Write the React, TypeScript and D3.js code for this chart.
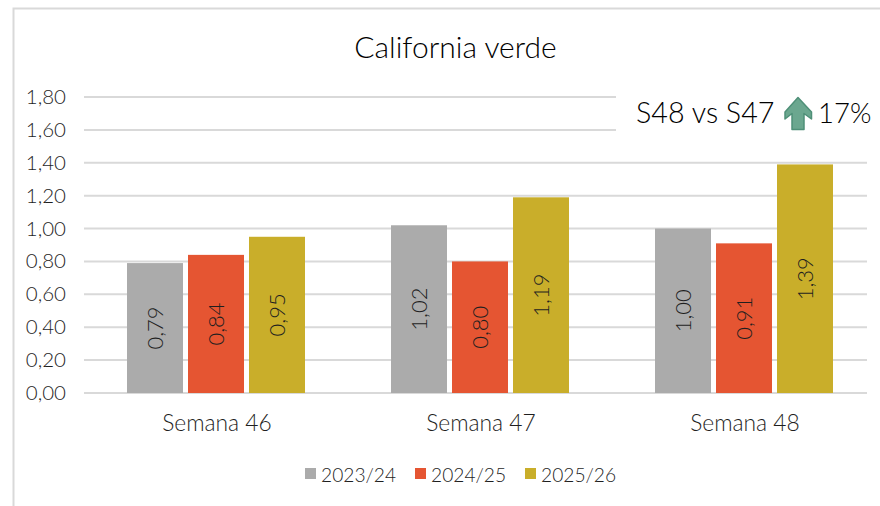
import React from "react";
import * as d3 from "d3";

const categories = ["Semana 46", "Semana 47", "Semana 48"];
const seriesNames = ["2023/24", "2024/25", "2025/26"];
const colors = ["#ABABAB", "#E55532", "#C9AE2A"];
const values2324 = [0.79, 1.02, 1.0];
const values2425 = [0.84, 0.8, 0.91];
const values2526 = [0.95, 1.19, 1.39];
const allValues = [values2324, values2425, values2526];
const ticks = [0, 0.2, 0.4, 0.6, 0.8, 1.0, 1.2, 1.4, 1.6, 1.8];
const title = "California verde";
const noteLeft = "S48 vs S47";
const noteRight = "17%";

const FONT = "Lato, 'Open Sans', sans-serif";
const TEXT = "#1f1f1f";
const fmt = (v: number) => v.toFixed(2).replace(".", ",");

export default function App() {
  const y = d3.scaleLinear().domain([0, 1.8]).range([393, 97]);
  const x0 = d3.scaleBand<string>().domain(categories).range([84, 876]);
  const barW = 56;
  const step = 61;
  const arrow = "M798 97.5 L811.5 112 L811.5 119 L804 113.5 L804 129.5 L792 129.5 L792 113.5 L785 119 L785 112 Z";
  return (
    <svg width={880} height={506} style={{ position: "absolute", left: 0, top: 0, background: "#fff" }} fontFamily={FONT} fontWeight={300}>
      <path d="M13.5 506 V8.5 H880" fill="none" stroke="#D9D9D9" strokeWidth={2} />
      <text x={455.5} y={58} textAnchor="middle" fontSize={30} fill="#000">{title}</text>
      {ticks.map((t) => {
        const hidden = t >= 1.6;
        return (
          <g key={t}>
            <line x1={84} x2={hidden ? 616 : 867} y1={y(t)} y2={y(t)} stroke="#D9D9D9" strokeWidth={2} />
            <text x={66} y={y(t) + 7} textAnchor="end" fontSize={20.5} fill={TEXT}>{fmt(t)}</text>
          </g>
        );
      })}
      {categories.map((c, i) => {
        const cx = (x0(c) as number) + x0.bandwidth() / 2;
        return (
          <g key={c}>
            {allValues.map((vals, s) => {
              const bx = cx + (s - 1) * step - barW / 2;
              const by = y(vals[i]);
              const mid = (by + y(0)) / 2;
              return (
                <g key={s}>
                  <rect x={bx} y={by} width={barW} height={y(0) - by} fill={colors[s]} />
                  <text transform={`translate(${bx + barW / 2 + 8},${mid}) rotate(-90)`} textAnchor="middle" fontSize={22} fill={TEXT}>{fmt(vals[i])}</text>
                </g>
              );
            })}
            <text x={cx + 1} y={431} textAnchor="middle" fontSize={22.8} fill={TEXT}>{c}</text>
          </g>
        );
      })}
      {seriesNames.map((n, i) => {
        const lx = [305, 415, 525][i];
        return (
          <g key={n}>
            <rect x={lx} y={468} width={11} height={11} fill={colors[i]} />
            <text x={lx + 16} y={482} fontSize={19.2} fill={TEXT}>{n}</text>
          </g>
        );
      })}
      <text x={636} y={123} fontSize={28.7} fill="#000">{noteLeft}</text>
      <path d={arrow} fill="#6BA78F" stroke="#4F9078" strokeWidth={1.5} strokeLinejoin="round" />
      <text x={818} y={123} fontSize={27.5} fill="#000">{noteRight}</text>
    </svg>
  );
}
